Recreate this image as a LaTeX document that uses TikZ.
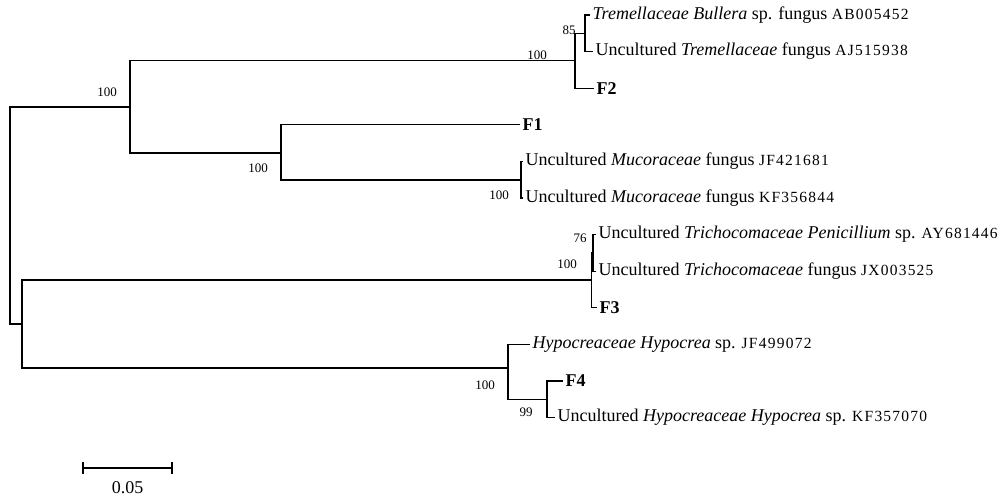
\documentclass[tikz,border=0pt]{standalone}
\usepackage{fontspec}
\setmainfont{Liberation Serif}
\usetikzlibrary{positioning}
\newcommand{\acc}[1]{{\fontsize{15.5}{17}\selectfont\addfontfeatures{LetterSpace=8}#1}}

\begin{document}
\begin{tikzpicture}[x=1pt, y=-1pt, line width=1.3pt,
    leaf/.style={anchor=west, inner sep=2pt, font=\fontsize{18}{20}\selectfont},
    boot/.style={inner sep=0pt, font=\fontsize{13}{15}\selectfont}
]
\useasboundingbox (0,0) rectangle (1003,497);

% Internal nodes
\coordinate (root) at (10,215.5);
\coordinate (nA)   at (130,107);
\coordinate (nB)   at (22,324);
\coordinate (nT)   at (575,60.5);
\coordinate (n85)  at (585,33.3);
\coordinate (nM)   at (281,153);
\coordinate (nMuc) at (521,180);
\coordinate (nTr)  at (591.7,280);
\coordinate (n76)  at (593,253);
\coordinate (nH)   at (508,368);
\coordinate (n99)  at (547,399.5);

% Leaf tips and labels
\foreach \i/\x/\y/\t in {
    1/590/15/{\textit{Tremellaceae Bullera} sp. fungus \acc{AB005452}},
    2/593/51.6/{Uncultured \textit{Tremellaceae} fungus \acc{AJ515938}},
    3/594/88.2/{\textbf{F2}},
    4/520/124.8/{\textbf{F1}},
    5/523/161.4/{Uncultured \textit{Mucoraceae} fungus \acc{JF421681}},
    6/523/198/{Uncultured \textit{Mucoraceae} fungus \acc{KF356844}},
    7/596/234.6/{Uncultured \textit{Trichocomaceae Penicillium} sp. \acc{AY681446}},
    8/596/271.2/{Uncultured \textit{Trichocomaceae} fungus \acc{JX003525}},
    9/597/307.8/{\textbf{F3}},
    10/530/344.4/{\textit{Hypocreaceae Hypocrea} sp. \acc{JF499072}},
    11/563/381/{\textbf{F4}},
    12/555/417.6/{Uncultured \textit{Hypocreaceae Hypocrea} sp. \acc{KF357070}}} {
    \coordinate (t\i) at (\x,\y);
    \node[leaf] (l\i) at (t\i) {\t};
}

% Branches
\foreach \p/\c in {root/nA, root/nB, nA/nT, nA/nM, nT/n85, nT/t3, n85/t1, n85/t2,
    nM/t4, nM/nMuc, nMuc/t5, nMuc/t6, nB/nTr, nB/nH, nTr/n76, nTr/t9,
    n76/t7, n76/t8, nH/t10, nH/n99, n99/t11, n99/t12} {
    \draw (\p) |- (\c);
}

% Bootstrap values
\node[boot] (bA)   at (107,92)  {100};
\node[boot] (bM)   at (258,168) {100};
\node[boot] (bT)   at (537,55)  {100};
\node[boot] (b85)  at (569,30)  {85};
\node[boot] (bMuc) at (499,195) {100};
\node[boot] (b76)  at (580,238) {76};
\node[boot] (bTr)  at (567,264) {100};
\node[boot] (bH)   at (485,385) {100};
\node[boot] (b99)  at (526,412) {99};

% Scale bar
\coordinate (sb1) at (83,468);
\coordinate (sb2) at (172,468);
\draw (sb1) -- (sb2);
\draw ([yshift=6pt]sb1) -- ([yshift=-6pt]sb1);
\draw ([yshift=6pt]sb2) -- ([yshift=-6pt]sb2);
\node[font=\fontsize{18}{20}\selectfont] (sbl) at (127.5,488) {0.05};

\end{tikzpicture}
\end{document}
